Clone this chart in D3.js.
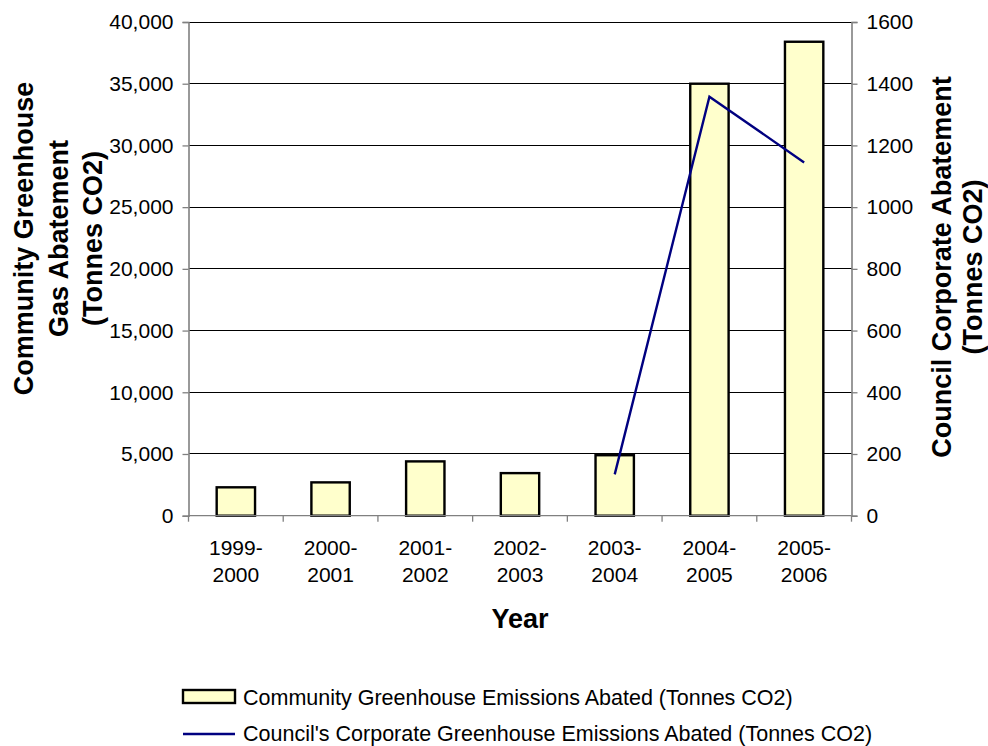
<!DOCTYPE html>
<html>
<head>
<meta charset="utf-8">
<script src="https://cdn.jsdelivr.net/npm/d3@7/dist/d3.min.js"></script>
<style>
  html, body { margin: 0; padding: 0; background: #fff; }
  svg { display: block; font-family: "Liberation Sans", Arial, sans-serif; }
</style>
</head>
<body>
<svg id="chart" width="988" height="746"></svg>
<script>
// Financial years shown along the bottom axis
const years = ["1999-2000", "2000-2001", "2001-2002", "2002-2003", "2003-2004", "2004-2005", "2005-2006"];
// Community greenhouse emissions abated (tonnes CO2), left axis
const communityAbated = [2300, 2700, 4400, 3450, 4900, 35000, 38400];
// Council corporate emissions abated (tonnes CO2), right axis; only reported from 2003-2004
const corporateYears = ["2003-2004", "2004-2005", "2005-2006"];
const corporateAbated = [134, 1358, 1145];
// Axis ticks
const leftTicks = [0, 5000, 10000, 15000, 20000, 25000, 30000, 35000, 40000];
const rightTicks = [0, 200, 400, 600, 800, 1000, 1200, 1400, 1600];

const svg = d3.select("#chart");
const plot = { left: 188.5, right: 851.5, top: 22, bottom: 515.7 };

const x = d3.scaleBand().domain(years).range([plot.left, plot.right]).padding(0);
const yL = d3.scaleLinear().domain([0, 40000]).range([plot.bottom, plot.top]);
const yR = d3.scaleLinear().domain([0, 1600]).range([plot.bottom, plot.top]);

const grey = "#808080";
const tickFont = "21px";
const legendFont = "21.5px";

// Horizontal gridlines
svg.append("g")
  .selectAll("line")
  .data(leftTicks.filter(d => d > 0))
  .join("line")
  .attr("x1", plot.left).attr("x2", plot.right)
  .attr("y1", d => yL(d)).attr("y2", d => yL(d))
  .attr("stroke", "#000").attr("stroke-width", 1)
  .attr("shape-rendering", "crispEdges");

// Bars
const barW = x.bandwidth() * 0.405;
svg.append("g")
  .selectAll("rect")
  .data(years.map((y, i) => ({ year: y, value: communityAbated[i] })))
  .join("rect")
  .attr("x", d => x(d.year) + x.bandwidth() / 2 - barW / 2)
  .attr("y", d => yL(d.value))
  .attr("width", barW)
  .attr("height", d => plot.bottom - yL(d.value))
  .attr("fill", "#FFFFCC")
  .attr("stroke", "#000")
  .attr("stroke-width", 2.4);

// Left axis
const axL = svg.append("g")
  .attr("transform", `translate(${plot.left},0)`)
  .call(d3.axisLeft(yL).tickValues(leftTicks).tickFormat(d3.format(",")).tickSize(6).tickPadding(9));
// Right axis
const axR = svg.append("g")
  .attr("transform", `translate(${plot.right},0)`)
  .call(d3.axisRight(yR).tickValues(rightTicks).tickFormat(d3.format("d")).tickSize(6).tickPadding(9));
// Bottom axis: ticks at category boundaries
const xBoundaries = years.map(y => x(y)).concat([plot.right]);
const axB = svg.append("g");
axB.append("line")
  .attr("x1", plot.left).attr("x2", plot.right)
  .attr("y1", plot.bottom).attr("y2", plot.bottom)
  .attr("stroke", grey).attr("stroke-width", 1.3);
axB.selectAll("line.tick")
  .data(xBoundaries)
  .join("line")
  .attr("class", "tick")
  .attr("x1", d => d).attr("x2", d => d)
  .attr("y1", plot.bottom).attr("y2", plot.bottom + 6)
  .attr("stroke", grey).attr("stroke-width", 1.3);

[axL, axR].forEach(ax => {
  ax.select(".domain").attr("stroke", grey).attr("stroke-width", 1.6);
  ax.selectAll(".tick line").attr("stroke", grey).attr("stroke-width", 1.3);
  ax.selectAll(".tick text").attr("fill", "#000").style("font-size", tickFont)
    .style("font-family", "'Liberation Sans', Arial, sans-serif");
});

// Category labels, split over two lines
const catLabels = axB.selectAll("text.cat")
  .data(years)
  .join("text")
  .attr("class", "cat")
  .attr("text-anchor", "middle")
  .style("font-size", tickFont)
  .attr("fill", "#000");
catLabels.append("tspan")
  .attr("x", d => x(d) + x.bandwidth() / 2)
  .attr("y", plot.bottom + 39)
  .text(d => d.split("-")[0] + "-");
catLabels.append("tspan")
  .attr("x", d => x(d) + x.bandwidth() / 2)
  .attr("y", plot.bottom + 66)
  .text(d => d.split("-")[1]);

// Corporate abatement line
const line = d3.line()
  .x((d, i) => x(corporateYears[i]) + x.bandwidth() / 2)
  .y(d => yR(d));
svg.append("path")
  .datum(corporateAbated)
  .attr("d", line)
  .attr("fill", "none")
  .attr("stroke", "#000080")
  .attr("stroke-width", 2.4);

// Axis titles
svg.append("text")
  .attr("x", (plot.left + plot.right) / 2)
  .attr("y", 628)
  .attr("text-anchor", "middle")
  .style("font-size", "27px").style("font-weight", "bold")
  .text("Year");

const leftTitle = svg.append("text")
  .attr("transform", "translate(0,238.5) rotate(-90)")
  .attr("text-anchor", "middle")
  .style("font-size", "27px").style("font-weight", "bold");
[["Community Greenhouse", 33], ["Gas Abatement", 68], ["(Tonnes CO2)", 102]].forEach(([t, b]) => {
  leftTitle.append("tspan").attr("x", 0).attr("y", b).text(t);
});

const rightTitle = svg.append("text")
  .attr("transform", "translate(0,267) rotate(-90)")
  .attr("text-anchor", "middle")
  .style("font-size", "27px").style("font-weight", "bold");
[["Council Corporate Abatement", 951], ["(Tonnes CO2)", 982]].forEach(([t, b]) => {
  rightTitle.append("tspan").attr("x", 0).attr("y", b).text(t);
});

// Legend
const legend = svg.append("g");
legend.append("rect")
  .attr("x", 183).attr("y", 690).attr("width", 52).attr("height", 13)
  .attr("fill", "#FFFFCC").attr("stroke", "#000").attr("stroke-width", 2.4);
legend.append("text")
  .attr("x", 243).attr("y", 704.5)
  .style("font-size", legendFont)
  .text("Community Greenhouse Emissions Abated (Tonnes CO2)");
legend.append("line")
  .attr("x1", 183).attr("x2", 235).attr("y1", 734).attr("y2", 734)
  .attr("stroke", "#000080").attr("stroke-width", 2.4);
legend.append("text")
  .attr("x", 243).attr("y", 741)
  .style("font-size", legendFont)
  .text("Council's Corporate Greenhouse Emissions Abated (Tonnes CO2)");
</script>
</body>
</html>
